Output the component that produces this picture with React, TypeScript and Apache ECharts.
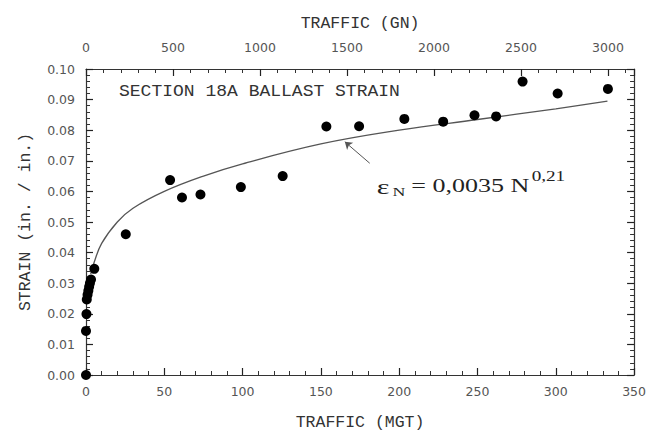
import React, { useEffect, useRef } from "react";
import * as echarts from "echarts";

// Measured points: traffic (MGT) vs strain (in./in.)
const trafficMGT = [0, 0, 0.3, 0.5, 1.0, 1.5, 2.0, 2.5, 3.2, 5.3, 25.4, 53.7, 61.3, 73.1, 98.9, 125.6, 153.5, 174.4, 203.3, 228.1, 248.1, 261.9, 278.8, 301.2, 333.3];
const strain = [0.0, 0.0144, 0.0199, 0.0247, 0.0262, 0.0275, 0.0288, 0.03, 0.0312, 0.0347, 0.046, 0.0637, 0.058, 0.059, 0.0614, 0.065, 0.0812, 0.0813, 0.0837, 0.0828, 0.0849, 0.0845, 0.0959, 0.092, 0.0935];

// Fitted curve
const curveX = [3, 5, 10, 20, 30, 50, 75, 100, 150, 200, 250, 300, 333];
const curveY = [0.033, 0.0365, 0.043, 0.05, 0.0545, 0.06, 0.065, 0.069, 0.0755, 0.08, 0.0835, 0.087, 0.0895];

// Axes
const xMin = 0, xMax = 350, xStep = 50;
const topMin = 0, topMax = 3150, topStep = 500;
const yMin = 0, yMax = 0.1, yStep = 0.01;

const titleText = "SECTION 18A BALLAST STRAIN";
const arrowFrom = [181.2, 0.0692];
const arrowTo = [165.3, 0.0762];

const axisColor = "#333";
const mkLine = () => ({ show: true, onZero: false, lineStyle: { color: axisColor, width: 1.2 } });
const mkTick = () => ({ show: true, inside: true, length: 7, lineStyle: { color: "#222", width: 1.2 } });
const mkMinor = () => ({ show: true, splitNumber: 5, length: 4, lineStyle: { color: "#333", width: 1 } });
const mkLabel = () => ({ color: "#555", fontFamily: "DejaVu Sans", fontSize: 12.5 });
const mkName = () => ({ color: "#333", fontFamily: "Liberation Mono", fontSize: 16.5 });

export default function App() {
  const ref = useRef<HTMLDivElement>(null);
  useEffect(() => {
    if (!ref.current) return;
    const chart = echarts.init(ref.current, null, { renderer: "svg" });
    const scatterData = trafficMGT.map((x, i) => [x, strain[i]]);
    const curveData = curveX.map((x, i) => [x, curveY[i]]);
    chart.setOption({
      animation: false,
      backgroundColor: "#fff",
      grid: { left: 86, right: 11, top: 69, bottom: 55, containLabel: false },
      xAxis: [
        {
          type: "value", position: "bottom", min: xMin, max: xMax, interval: xStep,
          name: "TRAFFIC (MGT)", nameLocation: "middle", nameGap: 39, nameTextStyle: mkName(),
          axisLine: mkLine(), axisTick: mkTick(), minorTick: mkMinor(),
          axisLabel: { ...mkLabel(), margin: 10 },
          splitLine: { show: false }, minorSplitLine: { show: false },
        },
        {
          type: "value", position: "top", min: topMin, max: topMax, interval: topStep,
          name: "TRAFFIC (GN)", nameLocation: "middle", nameGap: 37, nameTextStyle: mkName(),
          axisLine: mkLine(), axisTick: mkTick(), minorTick: mkMinor(),
          axisLabel: { ...mkLabel(), margin: 15, formatter: (v: number) => (v % topStep === 0 ? String(v) : "") },
          splitLine: { show: false }, minorSplitLine: { show: false },
        },
      ],
      yAxis: [
        {
          type: "value", position: "left", min: yMin, max: yMax, interval: yStep,
          name: "STRAIN (in. / in.)", nameLocation: "middle", nameGap: 52, nameTextStyle: mkName(),
          axisLine: mkLine(), axisTick: mkTick(), minorTick: mkMinor(),
          axisLabel: { ...mkLabel(), margin: 11, formatter: (v: number) => v.toFixed(2) },
          splitLine: { show: false }, minorSplitLine: { show: false },
        },
        {
          type: "value", position: "right", min: yMin, max: yMax, interval: yStep,
          axisLine: mkLine(), axisTick: mkTick(), minorTick: mkMinor(),
          axisLabel: { show: false },
          splitLine: { show: false }, minorSplitLine: { show: false },
        },
      ],
      series: [
        {
          type: "line", xAxisIndex: 0, yAxisIndex: 0, data: curveData, smooth: 0.4,
          showSymbol: false, symbol: "none", silent: true,
          lineStyle: { color: "#555", width: 1.3 },
          markLine: {
            silent: true, symbol: ["none", "arrow"], symbolSize: 7,
            label: { show: false },
            lineStyle: { color: "#555", width: 1, type: "solid" },
            data: [[{ coord: arrowFrom }, { coord: arrowTo }]],
          },
        },
        {
          type: "scatter", xAxisIndex: 0, yAxisIndex: 0, data: scatterData,
          symbol: "circle", symbolSize: 10, itemStyle: { color: "#000", opacity: 1 }, z: 5,
        },
      ],
      graphic: [
        {
          type: "text", left: 119, top: 83, scaleX: 1.06,
          style: { text: titleText, fill: "#333", font: "17px 'Liberation Mono'" },
        },
        {
          type: "group", x: 376.7, y: 0, scaleX: 1.37,
          children: [
            { type: "text", x: 0, y: 186, style: { text: "ε", fill: "#222", font: "22px 'Liberation Serif'", verticalAlign: "middle" } },
            { type: "text", x: 11.6, y: 191, style: { text: "N", fill: "#222", font: "13px 'Liberation Serif'", verticalAlign: "middle" } },
            { type: "text", x: 25.2, y: 186, style: { text: "= 0,0035 N", fill: "#222", font: "19px 'Liberation Serif'", verticalAlign: "middle" } },
            { type: "text", x: 113.1, y: 176.5, style: { text: "0,21", fill: "#222", font: "14px 'Liberation Serif'", verticalAlign: "middle" } },
          ],
        },
      ],
    });
    return () => chart.dispose();
  }, []);
  return <div ref={ref} style={{ position: "fixed", left: 0, top: 0, width: 649, height: 436 }} />;
}
